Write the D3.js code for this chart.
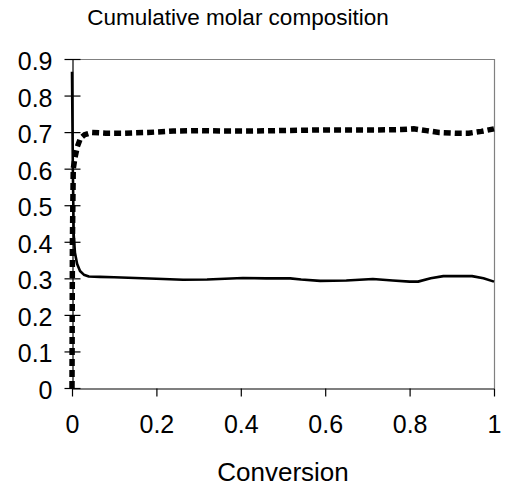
<!DOCTYPE html>
<html>
<head>
<meta charset="utf-8">
<script src="https://cdn.jsdelivr.net/npm/d3@7"></script>
<style>
  body { margin: 0; background: #fff; }
  text { font-family: "Liberation Sans", Arial, sans-serif; fill: #000; }
</style>
</head>
<body>
<div id="chart-area"></div>
<script>
// Data
// ****
const yTicks = [0, 0.1, 0.2, 0.3, 0.4, 0.5, 0.6, 0.7, 0.8, 0.9]
const xTicks = [0, 0.2, 0.4, 0.6, 0.8, 1]

// solid series
const solidX = [0, 0.002, 0.004, 0.007, 0.012, 0.019, 0.028, 0.04, 0.066, 0.1, 0.15, 0.2, 0.263, 0.32, 0.405, 0.46, 0.517, 0.543, 0.588, 0.65, 0.713, 0.76, 0.8, 0.82, 0.85, 0.88, 0.948, 0.975, 1]
const solidY = [0.865, 0.6, 0.42, 0.37, 0.34, 0.32, 0.31, 0.305, 0.304, 0.303, 0.301, 0.299, 0.296, 0.297, 0.301, 0.3, 0.3, 0.297, 0.293, 0.294, 0.298, 0.294, 0.291, 0.291, 0.3, 0.306, 0.306, 0.3, 0.291]

// dotted series
const dotX = [0, 0.001, 0.003, 0.007, 0.0126, 0.02, 0.03, 0.047, 0.08, 0.12, 0.18, 0.24, 0.3, 0.36, 0.42, 0.48, 0.54, 0.6, 0.66, 0.72, 0.78, 0.81, 0.84, 0.87, 0.91, 0.94, 0.97, 1]
const dotY = [0, 0.4, 0.6, 0.63, 0.66, 0.683, 0.693, 0.699, 0.697, 0.697, 0.699, 0.703, 0.704, 0.703, 0.703, 0.704, 0.705, 0.706, 0.706, 0.706, 0.707, 0.709, 0.704, 0.699, 0.697, 0.697, 0.702, 0.709]

// Config
// ******
const W = 505, H = 486
const m = {left: 72, right: 494, top: 59, bottom: 388}

const svg = d3.select("#chart-area")
  .append("svg")
    .attr("width", W)
    .attr("height", H)

const x = d3.scaleLinear().domain([0, 1]).range([m.left, m.right])
const y = d3.scaleLinear().domain([0, 0.9]).range([m.bottom, m.top])

// plot border (top / right)
svg.append("path")
  .attr("d", `M${m.left},${m.top + 0.5}H${m.right + 0.5}V${m.bottom}`)
  .attr("fill", "none")
  .attr("stroke", "#808080")
  .attr("stroke-width", 1.2)

// Lines
// *****
const line = d3.line().x(d => x(d[0])).y(d => y(d[1]))

svg.append("path")
  .datum(solidX.map((v, i) => [v, solidY[i]]))
  .attr("d", line)
  .attr("fill", "none")
  .attr("stroke", "#000")
  .attr("stroke-width", 2.6)
  .attr("stroke-linejoin", "round")

svg.append("path")
  .datum(dotX.map((v, i) => [v, dotY[i]]))
  .attr("d", line)
  .attr("fill", "none")
  .attr("stroke", "#000")
  .attr("stroke-width", 5.5)
  .attr("stroke-dasharray", "7,4")

// Axes
// ****
const yAxis = d3.axisLeft(y).tickValues(yTicks).tickSize(0).tickPadding(20).tickFormat(d3.format("~g"))
const gy = svg.append("g")
  .attr("transform", `translate(${m.left + 0.5},0)`)
  .call(yAxis)
gy.select(".domain").attr("stroke", "#000").attr("stroke-width", 1.2)
gy.selectAll(".tick").append("line")
  .attr("x1", -8).attr("x2", 8)
  .attr("stroke", "#000").attr("stroke-width", 1.2)
gy.selectAll("text")
  .attr("font-size", 25)
  .attr("font-family", "Liberation Sans, Arial, sans-serif")
  .attr("dy", "0.42em")

const xAxis = d3.axisBottom(x).tickValues(xTicks).tickSizeInner(8).tickSizeOuter(0).tickPadding(19).tickFormat(d3.format("~g"))
const gx = svg.append("g")
  .attr("transform", `translate(0,${m.bottom + 0.5})`)
  .call(xAxis)
gx.select(".domain").attr("stroke", "#000").attr("stroke-width", 1.2)
gx.selectAll("line").attr("stroke", "#000").attr("stroke-width", 1.2)
gx.selectAll("text")
  .attr("font-size", 25)
  .attr("font-family", "Liberation Sans, Arial, sans-serif")

// Labels
// ******
svg.append("text")
  .attr("x", 238)
  .attr("y", 25)
  .attr("text-anchor", "middle")
  .attr("font-size", 22.5)
  .text("Cumulative molar composition")

svg.append("text")
  .attr("x", 283)
  .attr("y", 481)
  .attr("text-anchor", "middle")
  .attr("font-size", 26)
  .text("Conversion")
</script>
</body>
</html>
